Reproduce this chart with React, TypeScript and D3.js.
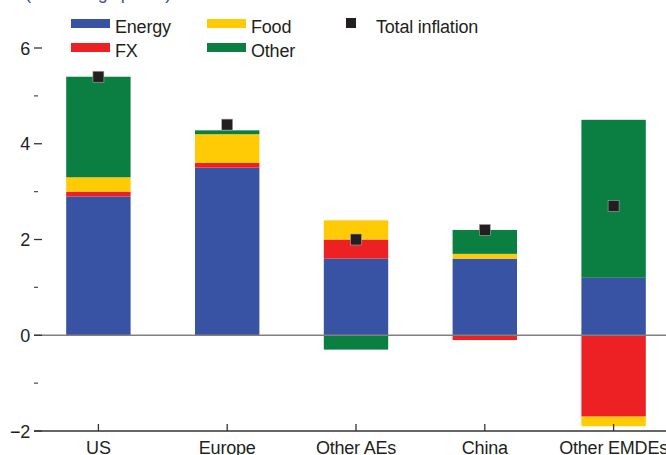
import React from "react";
import * as d3 from "d3";

const categories = ["US", "Europe", "Other AEs", "China", "Other EMDEs"];
const seriesNames = ["Energy", "FX", "Food", "Other"];
const energy = [2.9, 3.5, 1.6, 1.6, 1.2];
const fx = [0.1, 0.1, 0.4, -0.1, -1.7];
const food = [0.3, 0.6, 0.4, 0.1, -0.2];
const other = [2.1, 0.08, -0.3, 0.5, 3.3];
const total = [5.4, 4.4, 2.0, 2.2, 2.7];
const majorTicks = [6, 4, 2, 0, -2];
const minorTicks = [5, 3, 1, -1];
const title = "(Percentage points)";

const colors: Record<string, string> = {
  Energy: "#3953a4",
  FX: "#ed2024",
  Food: "#fecb05",
  Other: "#0a7f41",
};

const W = 666;
const H = 455;
const font = "'Liberation Sans', Arial, sans-serif";
const textColor = "#231f20";

export default function App() {
  const y = d3.scaleLinear().domain([-2, 6]).range([431, 48]);
  const x = d3
    .scaleBand<string>()
    .domain(categories)
    .range([34, 678])
    .paddingInner(0.5)
    .paddingOuter(0.25);

  const rows = categories.map((c, i) => ({
    cat: c,
    Energy: energy[i],
    FX: fx[i],
    Food: food[i],
    Other: other[i],
  }));
  const stack = d3
    .stack<any>()
    .keys(seriesNames)
    .offset(d3.stackOffsetDiverging);
  const layers = stack(rows);

  const textStyle = {
    fontFamily: font,
    fontSize: 18,
    fill: textColor,
    letterSpacing: -0.2,
  } as React.CSSProperties;

  return (
    <svg
      width={W}
      height={H}
      style={{ position: "absolute", left: 0, top: 0, background: "#fff" }}
    >
      <text x={25} y={-1} style={{ ...textStyle, fill: "#3953a4", letterSpacing: -0.6 }}>
        {title}
      </text>

      {/* bars */}
      {layers.map((layer) => (
        <g key={layer.key} fill={colors[layer.key]}>
          {layer.map((d, i) => (
            <rect
              key={i}
              x={x(categories[i])}
              width={x.bandwidth()}
              y={y(Math.max(d[0], d[1]))}
              height={Math.abs(y(d[0]) - y(d[1]))}
            />
          ))}
        </g>
      ))}

      {/* zero line */}
      <line x1={34} x2={W} y1={y(0)} y2={y(0)} stroke="#808080" strokeWidth={1.6} />
      {/* bottom axis */}
      <line x1={34} x2={W} y1={y(-2)} y2={y(-2)} stroke="#333" strokeWidth={1.5} />
      {categories.map((c) => (
        <g key={c}>
          <line
            x1={x(c)! + x.bandwidth() / 2}
            x2={x(c)! + x.bandwidth() / 2}
            y1={y(-2) - 7}
            y2={y(-2)}
            stroke="#333"
            strokeWidth={1.3}
          />
          <text
            x={x(c)! + x.bandwidth() / 2}
            y={454}
            textAnchor="middle"
            style={textStyle}
          >
            {c}
          </text>
        </g>
      ))}

      {/* y ticks */}
      {majorTicks.map((t) => (
        <g key={t}>
          <line x1={34} x2={42} y1={y(t)} y2={y(t)} stroke="#333" strokeWidth={1.3} />
          <text
            x={30}
            y={y(t) + 6.5}
            textAnchor="end"
            style={textStyle}
          >
            {t < 0 ? "\u2212" + Math.abs(t) : String(t)}
          </text>
        </g>
      ))}
      {minorTicks.map((t) => (
        <line key={t} x1={34} x2={38} y1={y(t)} y2={y(t)} stroke="#555" strokeWidth={1.3} />
      ))}

      {/* total markers */}
      {total.map((v, i) => (
        <rect
          key={i}
          x={x(categories[i])! + x.bandwidth() / 2 - 5.5}
          y={y(v) - 5.5}
          width={11}
          height={11}
          fill="#231f20"
          stroke="#aaa"
          strokeWidth={0.6}
        />
      ))}

      {/* legend */}
      {seriesNames.map((s, i) => {
        const col = i === 0 || i === 1 ? 0 : 1;
        const row = i === 0 || i === 2 ? 0 : 1;
        const lx = col === 0 ? 71 : 207;
        const ly = row === 0 ? 19 : 43;
        return (
          <g key={s}>
            <rect x={lx} y={ly} width={39} height={9} fill={colors[s]} />
            <text x={lx + 44} y={ly + 14} style={textStyle}>
              {s}
            </text>
          </g>
        );
      })}
      <rect x={346} y={18} width={10} height={10} fill="#231f20" />
      <text x={376} y={33} style={textStyle}>
        Total inflation
      </text>
    </svg>
  );
}
